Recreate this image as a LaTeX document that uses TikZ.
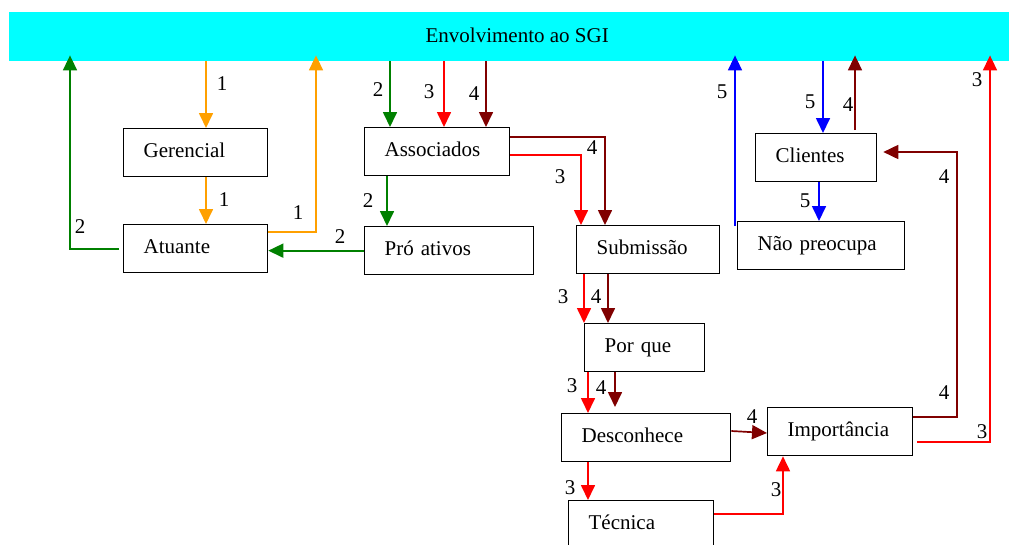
\documentclass[tikz,border=0pt]{standalone}
\usepackage{fontspec}
\setmainfont{Liberation Serif}
\usetikzlibrary{arrows.meta,calc}
\definecolor{sgicyan}{RGB}{0,255,255}
\definecolor{cone}{RGB}{255,160,0}
\definecolor{ctwo}{RGB}{0,128,0}
\definecolor{cthree}{RGB}{255,0,0}
\definecolor{cfour}{RGB}{128,0,0}
\definecolor{cfive}{RGB}{0,0,255}
\begin{document}
\begin{tikzpicture}[x=1pt,y=-1pt,
  font=\fontsize{21}{25}\selectfont,
  box/.style={draw=black, line width=1.3pt, anchor=north west, minimum height=48pt,
    inner xsep=20pt, inner ysep=0pt, align=left, text height=14pt, text depth=4pt},
  flow/.style={line width=1.7pt, -{Triangle[length=15pt,width=14pt]}},
  kone/.style={flow, draw=cone},
  ktwo/.style={flow, draw=ctwo},
  kthree/.style={flow, draw=cthree},
  kfour/.style={flow, draw=cfour},
  kfive/.style={flow, draw=cfive},
  lbl/.style={inner sep=0pt}]
\useasboundingbox (0,0) rectangle (1009,544);
\clip (0,0) rectangle (1009,544);

% banner
\node[fill=sgicyan, minimum width=1000pt, minimum height=49pt, anchor=north west, inner sep=0pt] (sgi) at (9,12) {};
\node[inner sep=0pt] (sgitext) at ($(sgi.center)+(8,-1)$) {Envolvimento ao SGI};
\coordinate (hit) at ($(sgi.south)+(0,-6)$);

% boxes
\node[box, text width=104pt] (ger) at (123,128) {Gerencial};
\node[box, text width=104pt] (atu) at (123,224) {Atuante};
\node[box, text width=105pt] (ass) at (364,127) {Associados};
\node[box, text width=129pt] (pro) at (364,226) {Pró ativos};
\node[box, text width=103pt] (sub) at (576,225) {Submissão};
\node[box, text width=81pt]  (cli) at (755,133) {Clientes};
\node[box, text width=127pt] (nao) at (737,221) {Não preocupa};
\node[box, text width=80pt]  (por) at (584,323) {Por que};
\node[box, text width=129pt] (des) at (561,413) {Desconhece};
\node[box, text width=105pt] (imp) at (767,407) {Importância};
\node[box, text width=105pt] (tec) at (568,500) {Técnica};

% column positions
\coordinate (xg) at (206,0);
\coordinate (xo) at (316,0);
\coordinate (xgl) at (70,0);
\coordinate (xa2) at (390,0);
\coordinate (xa2d) at (387,0);
\coordinate (xa3) at (444,0);
\coordinate (xa4) at (486,0);
\coordinate (xs3) at (581,0);
\coordinate (xs4) at (605,0);
\coordinate (xp3) at (584,0);
\coordinate (xp4) at (608,0);
\coordinate (xd3) at (588,0);
\coordinate (xd4) at (615,0);
\coordinate (xi3) at (783,0);
\coordinate (xr3) at (990,0);
\coordinate (xr4) at (957,0);
\coordinate (xc4) at (855,0);
\coordinate (xb1) at (735,0);
\coordinate (xb2) at (823,0);
\coordinate (xb3) at (819,0);

% 1 (orange)
\draw[kone] (sgi.south -| xg) -- (ger.north -| xg);
\draw[kone] (ger.south -| xg) -- (atu.north -| xg);
\draw[kone] ($(atu.north east)+(0,8)$) -| (hit -| xo);

% 2 (green)
\draw[ktwo] ($(atu.west)+(-4,0)$) -| (hit -| xgl);
\draw[ktwo] (pro.west) -- (pro.west -| atu.east);
\draw[ktwo] (sgi.south -| xa2) -- (ass.north -| xa2);
\draw[ktwo] (ass.south -| xa2d) -- (pro.north -| xa2d);

% 3 (red)
\draw[kthree] (sgi.south -| xa3) -- (ass.north -| xa3);
\draw[kthree] ($(ass.north east)+(0,28)$) -| (sub.north -| xs3);
\draw[kthree] (sub.south -| xp3) -- (por.north -| xp3);
\draw[kthree] (por.south -| xd3) -- (des.north -| xd3);
\draw[kthree] (des.south -| xd3) -- (tec.north -| xd3);
\draw[kthree] ($(tec.north east)+(0,14)$) -| (imp.south -| xi3);
\draw[kthree] ($(imp.north east)+(4,35)$) -| (hit -| xr3);

% 4 (dark red)
\draw[kfour] (sgi.south -| xa4) -- (ass.north -| xa4);
\draw[kfour] ($(ass.north east)+(0,10)$) -| (sub.north -| xs4);
\draw[kfour] (sub.south -| xp4) -- (por.north -| xp4);
\draw[kfour] (por.south -| xd4) -- ($(des.north -| xd4)+(0,-6)$);
\draw[kfour] ($(des.north east)+(0,18)$) -- ($(imp.north west)+(0,26)$);
\coordinate (cliIn) at ($(cli.north east)+(6,19)$);
\draw[kfour] ($(imp.north east)+(0,10)$) -| (cliIn -| xr4) -- (cliIn);
\draw[kfour] ($(cli.north -| xc4)+(0,-3)$) -- (hit -| xc4);

% 5 (blue)
\draw[kfive] ($(nao.north west)+(-2,5)$) -- (hit -| xb1);
\draw[kfive] (sgi.south -| xb2) -- (cli.north -| xb2);
\draw[kfive] (cli.south -| xb3) -- (nao.north -| xb3);

% step numbers
\node[lbl] (n1a) at (222,84) {1};
\node[lbl] (n1b) at (224,200) {1};
\node[lbl] (n1c) at (298,213) {1};
\node[lbl] (n2a) at (80,227) {2};
\node[lbl] (n2b) at (340,237) {2};
\node[lbl] (n2c) at (378,90) {2};
\node[lbl] (n2d) at (368,201) {2};
\node[lbl] (n3a) at (429,92) {3};
\node[lbl] (n3b) at (560,177) {3};
\node[lbl] (n3c) at (563,297) {3};
\node[lbl] (n3d) at (572,386) {3};
\node[lbl] (n3e) at (570,488) {3};
\node[lbl] (n3f) at (776,490) {3};
\node[lbl] (n3g) at (982,432) {3};
\node[lbl] (n3h) at (977,80) {3};
\node[lbl] (n4a) at (474,94) {4};
\node[lbl] (n4b) at (592,148) {4};
\node[lbl] (n4c) at (596,297) {4};
\node[lbl] (n4d) at (601,388) {4};
\node[lbl] (n4e) at (752,417) {4};
\node[lbl] (n4f) at (944,393) {4};
\node[lbl] (n4g) at (944,177) {4};
\node[lbl] (n4h) at (848,105) {4};
\node[lbl] (n5a) at (722,92) {5};
\node[lbl] (n5b) at (810,102) {5};
\node[lbl] (n5c) at (805,201) {5};
\end{tikzpicture}
\end{document}
